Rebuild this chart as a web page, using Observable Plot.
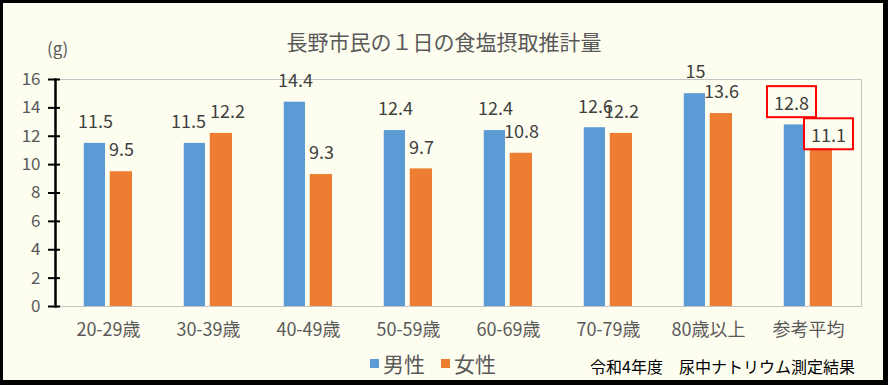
<!DOCTYPE html>
<html>
<head>
<meta charset="utf-8">
<script src="https://cdn.jsdelivr.net/npm/d3@7"></script>
<script src="https://cdn.jsdelivr.net/npm/@observablehq/plot@0.6"></script>
<style>
  html, body { margin: 0; padding: 0; background: #fff; }
  #wrap { position: relative; width: 888px; height: 385px; background: #FEFEF0; overflow: hidden;
          font-family: 'Noto Sans CJK JP', 'Noto Sans', sans-serif; }
  #chart { position: absolute; left: 0; top: 0; }
  #title { position: absolute; left: 0; top: 28px; width: 888px; text-align: center;
           font-size: 21px; color: #595959; line-height: 26px; }
  #unit { position: absolute; left: 47px; top: 38px; font-size: 17px; color: #595959; line-height: 20px; }
  #legend { position: absolute; left: 370px; top: 349px; font-size: 21px; color: #595959; line-height: 28px;
            display: flex; align-items: center; }
  #legend .sw { display: inline-block; width: 9px; height: 9px; margin-right: 4px; }
  #legend .item { display: flex; align-items: center; margin-right: 16px; }
  #caption { position: absolute; left: 590px; top: 354px; font-size: 16px; color: #000; line-height: 24px; white-space: pre; }
  #border { position: absolute; left: 0; top: 0; width: 888px; height: 385px; box-sizing: border-box;
            border-style: solid; border-color: #000; border-width: 3px 5px 5px 3px; pointer-events: none; }
</style>
</head>
<body>
<div id="wrap">
  <div id="chart"></div>
  <div id="title"></div>
  <div id="unit"></div>
  <div id="legend"></div>
  <div id="caption"></div>
  <div id="border"></div>
</div>
<script>
// ---- data ----
const titleText = "長野市民の１日の食塩摂取推計量";
const unitText = "(g)";
const captionText = "令和4年度　尿中ナトリウム測定結果";
const categories = ["20-29歳", "30-39歳", "40-49歳", "50-59歳", "60-69歳", "70-79歳", "80歳以上", "参考平均"];
const seriesNames = ["男性", "女性"];
const maleValues = [11.5, 11.5, 14.4, 12.4, 12.4, 12.6, 15, 12.8];
const femaleValues = [9.5, 12.2, 9.3, 9.7, 10.8, 12.2, 13.6, 11.1];
const seriesColors = ["#5B9BD5", "#ED7D31"];
const yTicks = [0, 2, 4, 6, 8, 10, 12, 14, 16];
const highlightCategory = "参考平均";
const spreadCategory = "30-39歳"; // labels pushed apart, as in the original

// ---- build rows ----
const maleRows = categories.map((c, i) => ({category: c, sex: seriesNames[0], value: maleValues[i]}));
const femaleRows = categories.map((c, i) => ({category: c, sex: seriesNames[1], value: femaleValues[i]}));
const fmt = v => String(v);
const plain = r => r.category !== highlightCategory && r.category !== spreadCategory;
const isHi = r => r.category === highlightCategory;
const isSpread = r => r.category === spreadCategory;

const labelStyle = {fontSize: 18, fill: "#404040", dy: -21, text: d => fmt(d.value)};

const plot = Plot.plot({
  width: 888,
  height: 340,
  marginTop: 79,
  marginBottom: 34,
  marginLeft: 55,
  marginRight: 27,
  style: {background: "transparent", fontFamily: "'Noto Sans CJK JP', 'Noto Sans', sans-serif", color: "#595959"},
  x: {domain: categories, padding: 0, label: null},
  y: {domain: [0, 16], label: null},
  marks: [
    Plot.frame({stroke: "#c4c4c4"}),
    Plot.barY(maleRows, {x: "category", y: "value", fill: seriesColors[0], insetLeft: 25.75, insetRight: 53}),
    Plot.barY(femaleRows, {x: "category", y: "value", fill: seriesColors[1], insetLeft: 51.75, insetRight: 26}),
    Plot.text(maleRows.filter(plain), {x: "category", y: "value", dx: -13, ...labelStyle}),
    Plot.text(femaleRows.filter(plain), {x: "category", y: "value", dx: 13, ...labelStyle}),
    Plot.text(maleRows.filter(isSpread), {x: "category", y: "value", dx: -20, ...labelStyle}),
    Plot.text(femaleRows.filter(isSpread), {x: "category", y: "value", dx: 19, ...labelStyle}),
    Plot.text(maleRows.filter(isHi), {x: "category", y: "value", dx: -17, ...labelStyle, ariaLabel: () => "highlight-label"}),
    Plot.text(femaleRows.filter(isHi), {x: "category", y: "value", dx: 20, ...labelStyle, dy: -13, ariaLabel: () => "highlight-label"}),
    Plot.axisY({ticks: yTicks, tickSize: 12, tickPadding: 8, dx: 5, fontSize: 17, stroke: "#000", strokeWidth: 2, fill: "#595959"}),
    Plot.frame({anchor: "left", stroke: "#000", strokeWidth: 2.5}),
    Plot.axisX({tickSize: 0, tickPadding: 17, fontSize: 18, fill: "#595959"})
  ]
});
document.getElementById("chart").appendChild(plot);

// red boxes around highlighted labels (sized from the rendered text)
const svgNS = "http://www.w3.org/2000/svg";
const svgRect = plot.getBoundingClientRect();
plot.querySelectorAll('text[aria-label="highlight-label"]').forEach(t => {
  const b = t.getBoundingClientRect();
  const cx = b.left + b.width / 2 - svgRect.left;
  const cy = b.top + b.height / 2 - svgRect.top;
  const w = b.width + 14, h = 31;
  const r = document.createElementNS(svgNS, "rect");
  r.setAttribute("x", cx - w / 2);
  r.setAttribute("y", cy - h / 2);
  r.setAttribute("width", w);
  r.setAttribute("height", h);
  r.setAttribute("fill", "none");
  r.setAttribute("stroke", "#FF0000");
  r.setAttribute("stroke-width", 2);
  plot.appendChild(r);
});

document.getElementById("title").textContent = titleText;
document.getElementById("unit").textContent = unitText;
document.getElementById("caption").textContent = captionText;
const legend = document.getElementById("legend");
seriesNames.forEach((s, i) => {
  const item = document.createElement("span");
  item.className = "item";
  const sw = document.createElement("span");
  sw.className = "sw";
  sw.style.background = seriesColors[i];
  item.appendChild(sw);
  item.appendChild(document.createTextNode(s));
  legend.appendChild(item);
});
</script>
</body>
</html>
